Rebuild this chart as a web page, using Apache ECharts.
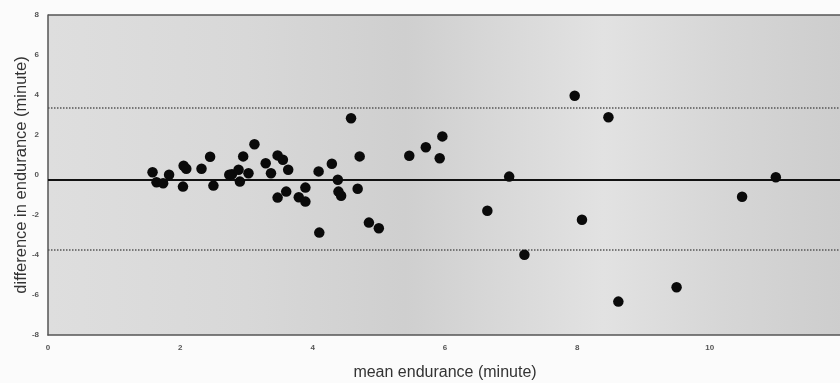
<!DOCTYPE html>
<html>
<head>
<meta charset="utf-8">
<script src="https://cdn.jsdelivr.net/npm/echarts@6/dist/echarts.min.js"></script>
<style>
  html, body { margin: 0; padding: 0; background: #fbfbfb; }
  #demo { width: 840px; height: 383px; }
</style>
</head>
<body>
<div id="demo"></div>
<script>
// mean endurance (x) and difference in endurance (y), minutes
var meanX = [1.58, 1.64, 1.74, 1.83, 2.05, 2.09, 2.04, 2.32, 2.45, 2.5,
             2.74, 2.78, 2.88, 2.9, 2.95, 3.03, 3.12, 3.29, 3.37, 3.47,
             3.55, 3.63, 3.47, 3.6, 3.89, 3.79, 3.89, 4.09, 4.1, 4.29,
             4.38, 4.39, 4.43, 4.58, 4.71, 4.68, 4.85, 5.0, 5.46, 5.71,
             5.96, 5.92, 7.96, 8.47, 6.97, 6.64, 8.07, 7.2, 8.62, 9.5,
             10.49, 11.0];
var diffY = [0.14, -0.36, -0.41, 0.01, 0.46, 0.31, -0.58, 0.31, 0.91, -0.53,
             0.01, 0.04, 0.26, -0.33, 0.93, 0.09, 1.54, 0.59, 0.09, 0.98,
             0.76, 0.26, -1.13, -0.83, -0.63, -1.11, -1.33, 0.18, -2.88, 0.56,
             -0.24, -0.83, -1.04, 2.84, 0.93, -0.69, -2.38, -2.66, 0.96, 1.39,
             1.93, 0.84, 3.96, 2.89, -0.08, -1.79, -2.24, -3.99, -6.33, -5.61,
             -1.09, -0.11];
var meanDiff = -0.25;
var limits = [3.35, -3.74];

var points = [];
for (var i = 0; i < meanX.length; i++) {
    points.push([meanX[i], diffY[i]]);
}

var mychar = echarts.init(document.getElementById('demo'));
mychar.setOption({
    backgroundColor: '#fbfbfb',
    animation: false,
    grid: {
        left: 48,
        top: 15,
        width: 794,
        height: 320,
        outerBoundsMode: 'none',
        containLabel: false,
        show: true,
        borderWidth: 0,
        backgroundColor: new echarts.graphic.LinearGradient(0, 0, 1, 0, [
            {offset: 0, color: '#dedede'},
            {offset: 0.25, color: '#d8d8d8'},
            {offset: 0.45, color: '#cfcfcf'},
            {offset: 0.7, color: '#e2e2e2'},
            {offset: 0.85, color: '#d6d6d6'},
            {offset: 1, color: '#cdcdcd'}
        ])
    },
    xAxis: {
        type: 'value',
        min: 0,
        max: 12,
        interval: 2,
        name: 'mean endurance (minute)',
        nameLocation: 'middle',
        nameGap: 30,
        nameTextStyle: {fontFamily: 'Liberation Sans', fontSize: 16, color: '#333'},
        axisLine: {show: true, onZero: false, lineStyle: {color: '#555', width: 1.5}},
        axisTick: {show: false},
        splitLine: {show: false},
        axisLabel: {fontFamily: 'Liberation Sans', fontSize: 8, fontWeight: 'bold', color: '#555', margin: 9, showMaxLabel: false}
    },
    yAxis: {
        type: 'value',
        min: -8,
        max: 8,
        interval: 2,
        name: 'difference in endurance (minute)',
        nameLocation: 'middle',
        nameGap: 18,
        nameMoveOverlap: false,
        nameTextStyle: {fontFamily: 'Liberation Sans', fontSize: 16.5, color: '#333'},
        axisLine: {show: true, lineStyle: {color: '#555', width: 1.5}},
        axisTick: {show: false},
        splitLine: {show: false},
        axisLabel: {fontFamily: 'Liberation Sans', fontSize: 8, fontWeight: 'bold', color: '#555', margin: 9}
    },
    series: [{
        type: 'scatter',
        data: points,
        symbol: 'circle',
        symbolSize: 10.5,
        itemStyle: {color: '#0a0a0a', opacity: 1},
        z: 5,
        markLine: {
            silent: true,
            symbol: 'none',
            label: {show: false},
            data: [
                {yAxis: meanDiff, lineStyle: {type: 'solid', color: '#111', width: 2}},
                {yAxis: limits[0], lineStyle: {type: 'dotted', color: '#555', width: 1.5}},
                {yAxis: limits[1], lineStyle: {type: 'dotted', color: '#555', width: 1.5}},
                {yAxis: 8, lineStyle: {type: 'solid', color: '#555', width: 1.5}}
            ]
        }
    }]
});
</script>
</body>
</html>
